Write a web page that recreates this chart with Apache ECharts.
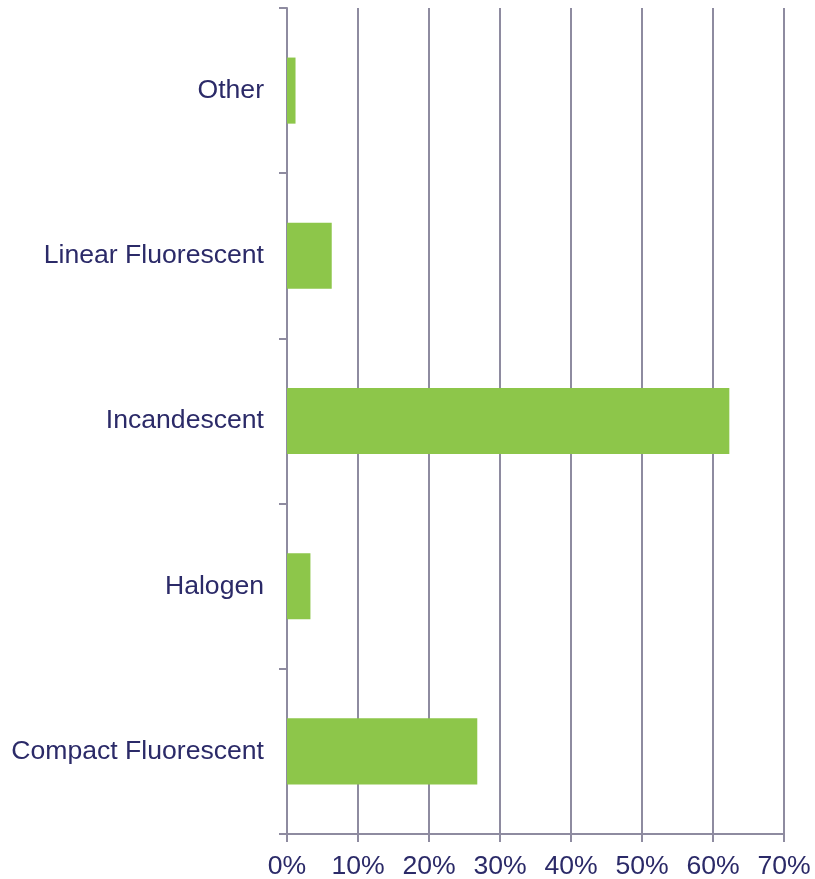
<!DOCTYPE html>
<html>
<head>
<meta charset="utf-8">
<script src="https://cdn.jsdelivr.net/npm/echarts@6/dist/echarts.min.js"></script>
<style>
html,body{margin:0;padding:0;background:#fff;}
#chart{width:815px;height:879px;}
</style>
</head>
<body>
<div id="chart"></div>
<script>
const categories = ['Compact Fluorescent', 'Halogen', 'Incandescent', 'Linear Fluorescent', 'Other'];
const shares = [26.8, 3.3, 62.3, 6.3, 1.2];
const xTicks = { min: 0, max: 70, interval: 10 };

const axisColor = '#8E8BA0';
const textColor = '#2B2A68';
const fontFam = '"Liberation Sans", Arial, Helvetica, sans-serif';
const chart = echarts.init(document.getElementById('chart'));
chart.setOption({
  animation: false,
  textStyle: { fontFamily: fontFam },
  grid: { left: 287, right: 31, top: 8, bottom: 45, containLabel: false, outerBoundsMode: 'none' },
  xAxis: {
    type: 'value',
    min: xTicks.min, max: xTicks.max, interval: xTicks.interval,
    axisLine: { show: true, lineStyle: { color: axisColor, width: 2 } },
    axisTick: { show: true, length: 8, lineStyle: { color: axisColor, width: 2 } },
    axisLabel: { formatter: '{value}%', color: textColor, fontSize: 26.6, fontFamily: fontFam, margin: 19 },
    splitLine: { show: true, lineStyle: { color: axisColor, width: 2 } }
  },
  yAxis: {
    type: 'category',
    data: categories,
    axisLine: { show: true, lineStyle: { color: axisColor, width: 2 } },
    axisTick: { show: true, length: 8, alignWithLabel: false, lineStyle: { color: axisColor, width: 2 } },
    axisLabel: { color: textColor, fontSize: 26.6, fontFamily: fontFam, margin: 23, padding: [7, 0, 0, 0] },
    splitLine: { show: false }
  },
  series: [{
    type: 'bar',
    data: shares,
    barWidth: '40%',
    itemStyle: { color: '#8DC64A' }
  }]
});
</script>
</body>
</html>
